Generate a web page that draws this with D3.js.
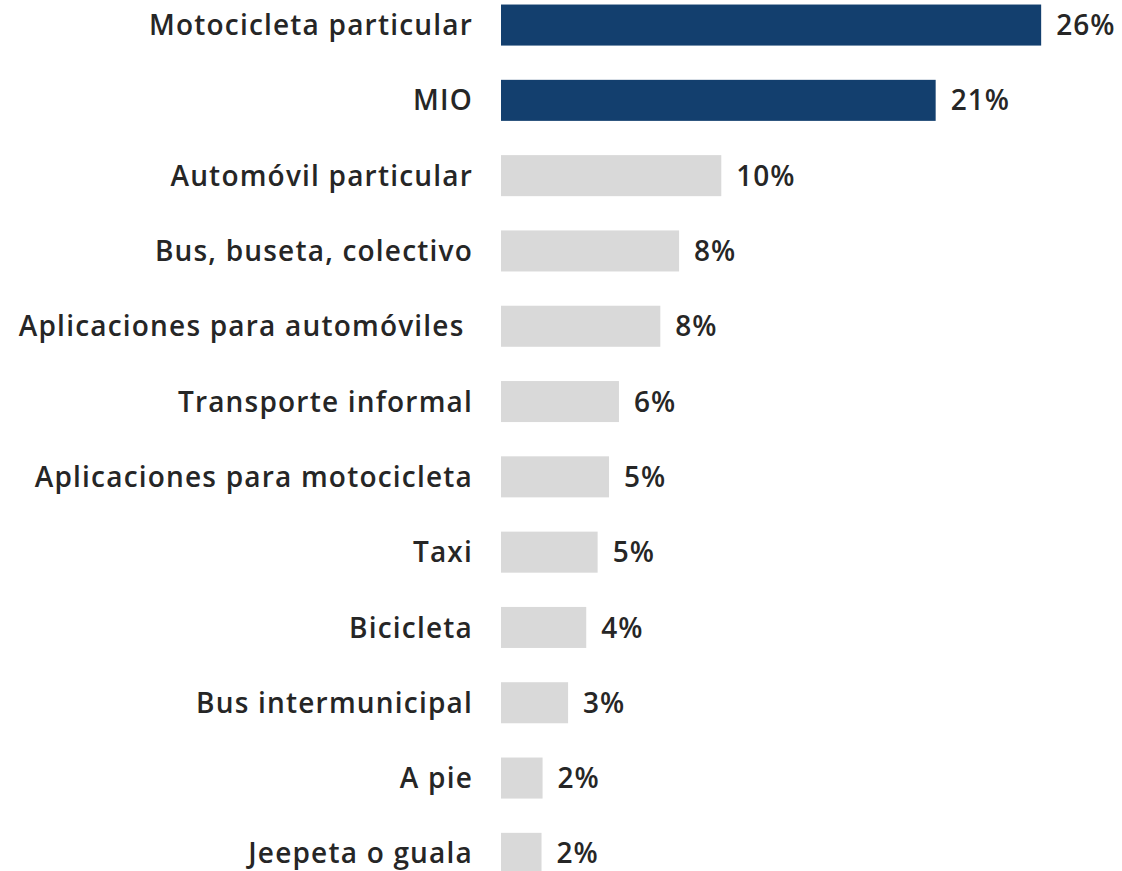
<!DOCTYPE html>
<html>
<head>
<meta charset="utf-8">
<script src="https://cdn.jsdelivr.net/npm/d3@7"></script>
<style>
body { margin: 0; background: #fff; }
text { font-family: "Open Sans", Lato, sans-serif; font-weight: 600; fill: #262626; }
</style>
</head>
<body>
<div id="chart"></div>
<script>
const width = 1122
const height = 871

// modos de transporte (orden del gráfico)
const categories = [
  'Motocicleta particular',
  'MIO',
  'Automóvil particular',
  'Bus, buseta, colectivo',
  'Aplicaciones para automóviles ',
  'Transporte informal',
  'Aplicaciones para motocicleta',
  'Taxi',
  'Bicicleta',
  'Bus intermunicipal',
  'A pie',
  'Jeepeta o guala'
]
const values = [25.6, 20.6, 10.44, 8.44, 7.55, 5.59, 5.12, 4.58, 4.04, 3.18, 1.97, 1.92]
const highlighted = ['Motocicleta particular', 'MIO']

const data = categories.map((c, i) => ({ name: c, value: values[i] }))

const svg = d3.select('#chart')
  .append('svg')
  .attr('width', width)
  .attr('height', height)

const x = d3.scaleLinear()
  .domain([0, 30])
  .range([501, 501 + 633])

const y = d3.scaleBand()
  .domain(categories)
  .range([-12.6, 891])
  .paddingInner(0.455)
  .paddingOuter(0.2275)

svg.append('g')
  .selectAll('rect')
  .data(data)
  .enter()
  .append('rect')
  .attr('x', x(0))
  .attr('y', d => y(d.name))
  .attr('width', d => x(d.value) - x(0))
  .attr('height', y.bandwidth())
  .style('fill', d => highlighted.includes(d.name) ? '#133f6e' : '#d9d9d9')

// etiquetas de categoria
svg.append('g')
  .selectAll('text')
  .data(data)
  .enter()
  .append('text')
  .attr('x', 473)
  .attr('y', d => y(d.name) + y.bandwidth() / 2)
  .attr('dy', '0.36em')
  .attr('text-anchor', 'end')
  .style('font-size', '28px')
  .style('letter-spacing', '1.2px')
  .style('white-space', 'pre')
  .text(d => d.name)

// valores
svg.append('g')
  .selectAll('text')
  .data(data)
  .enter()
  .append('text')
  .attr('x', d => x(d.value) + 15)
  .attr('y', d => y(d.name) + y.bandwidth() / 2)
  .attr('dy', '0.36em')
  .style('font-size', '28px')
  .style('letter-spacing', '1px')
  .text(d => d3.format('.0f')(d.value) + '%')
</script>
</body>
</html>
